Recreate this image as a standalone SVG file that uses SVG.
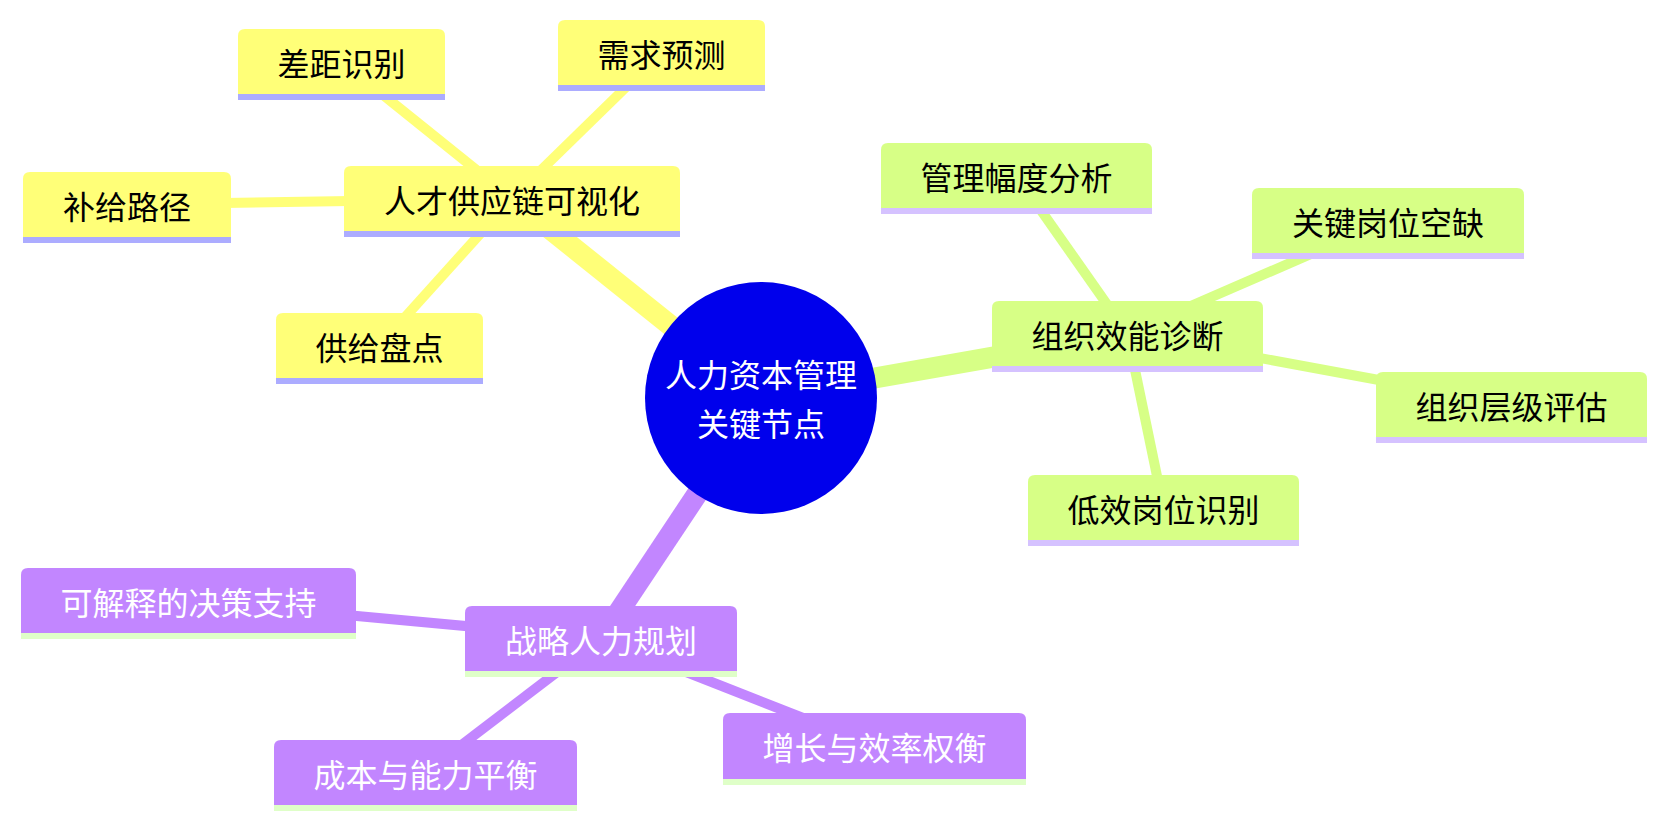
<svg xmlns="http://www.w3.org/2000/svg" width="1667" height="827" viewBox="0 0 1667 827">
<style>
text{font-family:"Noto Sans CJK SC","Noto Sans",sans-serif;font-size:32px;text-anchor:middle;dominant-baseline:central}
.e0{stroke-width:21;stroke-linecap:butt;fill:none}
.e1{stroke-width:10;stroke-linecap:butt;fill:none}
.y{fill:#ffff78}.ys{stroke:#ffff78}.yl{fill:#acacff}
.g{fill:#d7ff86}.gs{stroke:#d7ff86}.gl{fill:#d5c2ff}
.p{fill:#c286ff}.ps{stroke:#c286ff}.pl{fill:#dfffc8}
.tb{fill:#000}.tw{fill:#fff}
</style>
<rect width="1667" height="827" fill="#fff"/>
<g id="connectors">
<line class="e0 ys" x1="761" y1="398" x2="512" y2="198.5"/>
<line class="e0 gs" x1="761" y1="398" x2="1127.5" y2="333.5"/>
<line class="e0 ps" x1="761" y1="398" x2="601" y2="638.5"/>
<line class="e1 ys" x1="512" y1="198.5" x2="341.5" y2="61.5"/>
<line class="e1 ys" x1="512" y1="198.5" x2="661.5" y2="52.5"/>
<line class="e1 ys" x1="512" y1="198.5" x2="127" y2="204.5"/>
<line class="e1 ys" x1="512" y1="198.5" x2="379.5" y2="345.5"/>
<line class="e1 gs" x1="1127.5" y1="333.5" x2="1016.5" y2="175.5"/>
<line class="e1 gs" x1="1127.5" y1="333.5" x2="1388" y2="220.5"/>
<line class="e1 gs" x1="1127.5" y1="333.5" x2="1511.5" y2="404.5"/>
<line class="e1 gs" x1="1127.5" y1="333.5" x2="1163.5" y2="507.5"/>
<line class="e1 ps" x1="601" y1="638.5" x2="188.5" y2="600.5"/>
<line class="e1 ps" x1="601" y1="638.5" x2="425.5" y2="772.5"/>
<line class="e1 ps" x1="601" y1="638.5" x2="874.5" y2="746"/>
</g>
<g id="root">
<circle cx="761" cy="398" r="116" fill="#0000ec"/>
<text class="tw" x="761" y="373">人力资本管理</text>
<text class="tw" x="761" y="422">关键节点</text>
</g>
<g id="n-rencai">
<path class="y" d="M344,231 V173 Q344,166 351,166 H673 Q680,166 680,173 V231 Z"/>
<rect class="yl" x="344" y="231" width="336" height="6"/>
<text class="tb" x="512" y="198.5">人才供应链可视化</text>
</g>
<g id="n-chaju">
<path class="y" d="M238,94 V36 Q238,29 245,29 H438 Q445,29 445,36 V94 Z"/>
<rect class="yl" x="238" y="94" width="207" height="6"/>
<text class="tb" x="341.5" y="61.5">差距识别</text>
</g>
<g id="n-xuqiu">
<path class="y" d="M558,85 V27 Q558,20 565,20 H758 Q765,20 765,27 V85 Z"/>
<rect class="yl" x="558" y="85" width="207" height="6"/>
<text class="tb" x="661.5" y="52.5">需求预测</text>
</g>
<g id="n-bugei">
<path class="y" d="M23,237 V179 Q23,172 30,172 H224 Q231,172 231,179 V237 Z"/>
<rect class="yl" x="23" y="237" width="208" height="6"/>
<text class="tb" x="127" y="204.5">补给路径</text>
</g>
<g id="n-gongji">
<path class="y" d="M276,378 V320 Q276,313 283,313 H476 Q483,313 483,320 V378 Z"/>
<rect class="yl" x="276" y="378" width="207" height="6"/>
<text class="tb" x="379.5" y="345.5">供给盘点</text>
</g>
<g id="n-zuzhi">
<path class="g" d="M992,366 V308 Q992,301 999,301 H1256 Q1263,301 1263,308 V366 Z"/>
<rect class="gl" x="992" y="366" width="271" height="6"/>
<text class="tb" x="1127.5" y="333.5">组织效能诊断</text>
</g>
<g id="n-guanli">
<path class="g" d="M881,208 V150 Q881,143 888,143 H1145 Q1152,143 1152,150 V208 Z"/>
<rect class="gl" x="881" y="208" width="271" height="6"/>
<text class="tb" x="1016.5" y="175.5">管理幅度分析</text>
</g>
<g id="n-guanjian">
<path class="g" d="M1252,253 V195 Q1252,188 1259,188 H1517 Q1524,188 1524,195 V253 Z"/>
<rect class="gl" x="1252" y="253" width="272" height="6"/>
<text class="tb" x="1388" y="220.5">关键岗位空缺</text>
</g>
<g id="n-cengji">
<path class="g" d="M1376,437 V379 Q1376,372 1383,372 H1640 Q1647,372 1647,379 V437 Z"/>
<rect class="gl" x="1376" y="437" width="271" height="6"/>
<text class="tb" x="1511.5" y="404.5">组织层级评估</text>
</g>
<g id="n-dixiao">
<path class="g" d="M1028,540 V482 Q1028,475 1035,475 H1292 Q1299,475 1299,482 V540 Z"/>
<rect class="gl" x="1028" y="540" width="271" height="6"/>
<text class="tb" x="1163.5" y="507.5">低效岗位识别</text>
</g>
<g id="n-zhanlue">
<path class="p" d="M465,671 V613 Q465,606 472,606 H730 Q737,606 737,613 V671 Z"/>
<rect class="pl" x="465" y="671" width="272" height="6"/>
<text class="tw" x="601" y="638.5">战略人力规划</text>
</g>
<g id="n-kejieshi">
<path class="p" d="M21,633 V575 Q21,568 28,568 H349 Q356,568 356,575 V633 Z"/>
<rect class="pl" x="21" y="633" width="335" height="6"/>
<text class="tw" x="188.5" y="600.5">可解释的决策支持</text>
</g>
<g id="n-chengben">
<path class="p" d="M274,805 V747 Q274,740 281,740 H570 Q577,740 577,747 V805 Z"/>
<rect class="pl" x="274" y="805" width="303" height="6"/>
<text class="tw" x="425.5" y="772.5">成本与能力平衡</text>
</g>
<g id="n-zengzhang">
<path class="p" d="M723,779 V720 Q723,713 730,713 H1019 Q1026,713 1026,720 V779 Z"/>
<rect class="pl" x="723" y="779" width="303" height="6"/>
<text class="tw" x="874.5" y="746">增长与效率权衡</text>
</g>
</svg>
